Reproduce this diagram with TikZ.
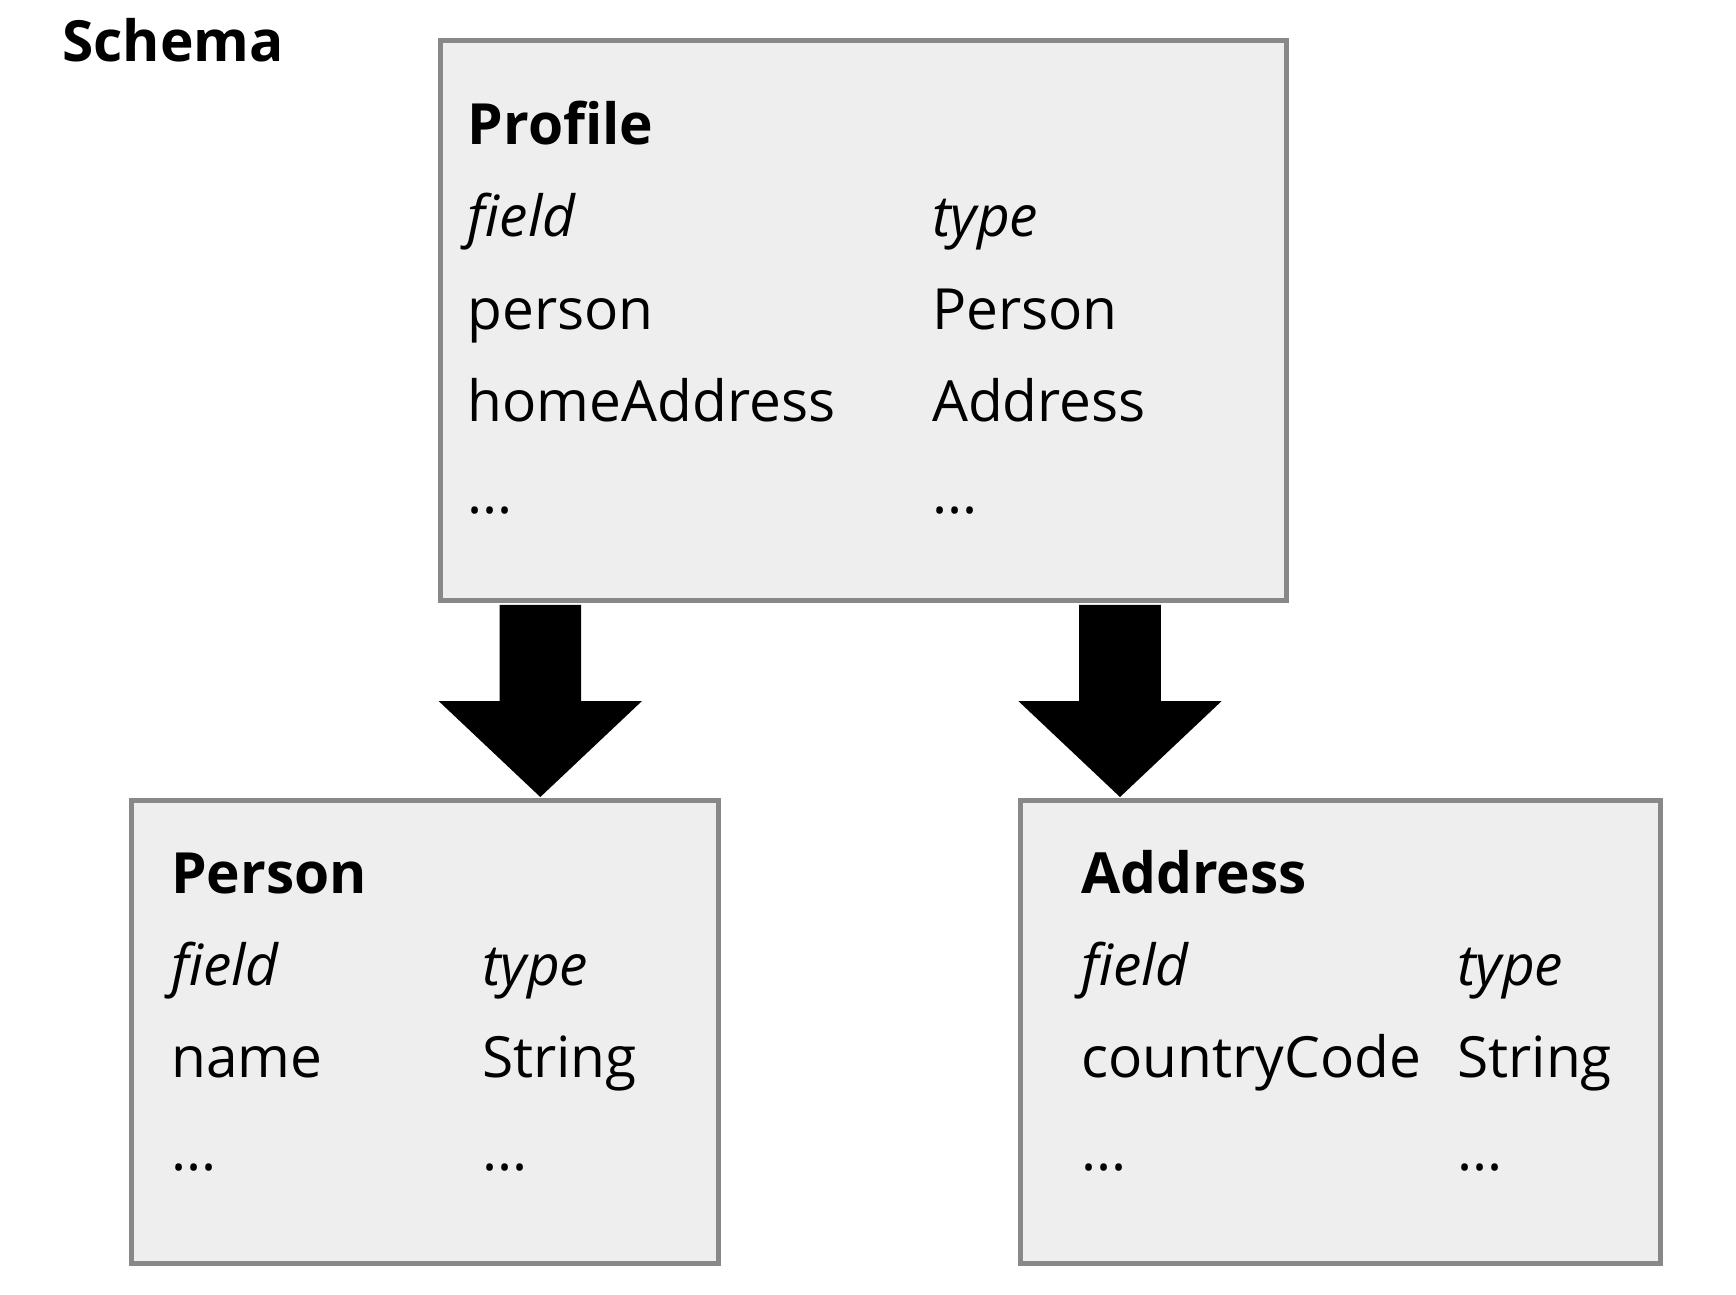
\documentclass[tikz,border=0pt]{standalone}
\usepackage{fontspec}
\setmainfont{Open Sans}
\usetikzlibrary{calc}
\definecolor{boxfill}{HTML}{EEEEEE}
\definecolor{boxline}{HTML}{888888}
\newcommand{\fatarrow}[2]{%
  \fill[black] ($(#1)+(-40.8,0)$) -- ($(#2)+(-40.8,-96)$) -- ($(#2)+(-101.7,-96)$) -- (#2)
    -- ($(#2)+(101.7,-96)$) -- ($(#2)+(40.8,-96)$) -- ($(#1)+(40.8,0)$) -- cycle;}
\begin{document}
\begin{tikzpicture}[x=1pt,y=-1pt,
  box/.style={draw=boxline, fill=boxfill, line width=5pt, rectangle, inner sep=0pt},
  txt/.style={anchor=base west, inner sep=0pt, font=\fontsize{56.8}{68}\selectfont},
  ttl/.style={txt, font=\fontsize{56.8}{68}\selectfont\bfseries},
  hdr/.style={txt, font=\fontsize{56.8}{68}\selectfont\itshape}]
\useasboundingbox[fill=white] (0,0) rectangle (1736,1294);

% boxes
\node[box, minimum width=845.7pt, minimum height=560.7pt] (profile) at (863.65,320.35) {};
\node[box, minimum width=586.7pt, minimum height=462.2pt] (person) at (425.15,1031.9) {};
\node[box, minimum width=639.7pt, minimum height=462.2pt] (address) at (1340.65,1031.9) {};

% arrows
\coordinate (tipL) at (540.3,797);
\coordinate (tipR) at (1120,797);
\coordinate (baseL) at ($(profile.south -| tipL)+(0,1.6)$);
\coordinate (baseR) at ($(profile.south -| tipR)+(0,1.6)$);
\fatarrow{baseL}{tipL}
\fatarrow{baseR}{tipR}

% title
\node[ttl] (schema) at (62,61) {Schema};

% Profile
\node[ttl] (ptitle) at (467.5,144) {Profile};
\node[hdr] (pfield) at (467.5,236) {field};
\node[hdr] (ptype) at (932,236) {type};
\node[txt] (pr1a) at (467.5,329) {person};
\node[txt] (pr1b) at (932,329) {Person};
\node[txt] (pr2a) at (467.5,421) {homeAddress};
\node[txt] (pr2b) at (932,421) {Address};
\node[txt] (pr3a) at (467.5,513) {...};
\node[txt] (pr3b) at (932,513) {...};

% Person
\node[ttl] (etitle) at (171,893) {Person};
\node[hdr] (efield) at (171,985) {field};
\node[hdr] (etype) at (482,985) {type};
\node[txt] (er1a) at (171,1077) {name};
\node[txt] (er1b) at (482,1077) {String};
\node[txt] (er2a) at (171,1170) {...};
\node[txt] (er2b) at (482,1170) {...};

% Address
\node[ttl] (atitle) at (1081,893) {Address};
\node[hdr] (afield) at (1081,985) {field};
\node[hdr] (atype) at (1457,985) {type};
\node[txt] (ar1a) at (1081,1077) {countryCode};
\node[txt] (ar1b) at (1457,1077) {String};
\node[txt] (ar2a) at (1081,1170) {...};
\node[txt] (ar2b) at (1457,1170) {...};
\end{tikzpicture}
\end{document}
